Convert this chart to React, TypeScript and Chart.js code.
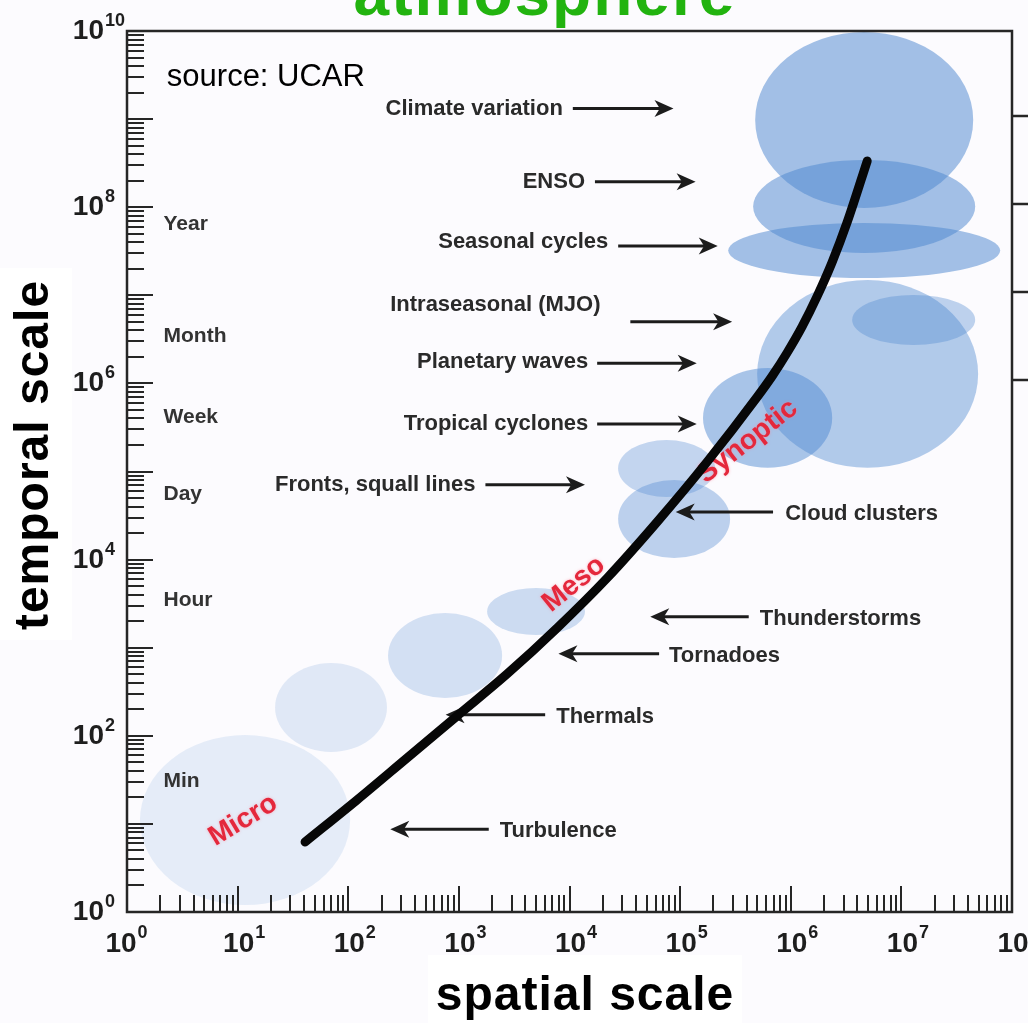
import React, { useEffect, useRef } from "react";
import { Chart, registerables } from "chart.js";

Chart.register(...registerables);

// ---- axes (spatial scale in m, temporal scale in s) ----
const xMin = 1;
const xMax = 1e8;
const yMin = 1;
const yMax = 1e10;
const xMajorExps = [0, 1, 2, 3, 4, 5, 6, 7, 8];
const yMajorExps = [0, 1, 2, 3, 4, 5, 6, 7, 8, 9, 10];
const xLabelExps = [0, 1, 2, 3, 4, 5, 6, 7, 8];
const yLabelExps = [0, 2, 4, 6, 8, 10];
const minorSignificands = [2, 3, 4, 5, 6, 7, 8, 9];
const rightStubExps = [6, 7, 8, 9];

// ---- black hand-drawn curve ----
const curveSpatial = [40.7, 120, 340, 964, 2730, 7730, 21900, 61900, 175000, 497000, 679000, 927000, 1.27e6, 1.73e6, 2.37e6, 3.24e6, 4.91e6];
const curveTemporal = [6.23, 18.7, 56, 168, 503, 1675, 6180, 26700, 128000, 701000, 1.21e6, 2.23e6, 4.44e6, 9.72e6, 2.39e7, 6.78e7, 3.34e8];

// ---- phenomena ellipses (extent in data units) ----
const phenomena = ["Turbulence", "Thermals", "Tornadoes", "Thunderstorms", "Cloud clusters", "Fronts", "Tropical cyclones", "Planetary waves", "Intraseasonal (MJO)", "Seasonal cycles", "ENSO", "Climate variation"];
const spatialLow = [1.31, 21.8, 229, 1800, 27500, 27500, 161000, 497000, 3.59e6, 272000, 457000, 477000];
const spatialHigh = [104, 224, 2460, 13800, 283000, 207000, 2.37e6, 4.94e7, 4.65e7, 7.82e7, 4.65e7, 4.46e7];
const temporalLow = [1.2, 65.5, 269, 1390, 10400, 51300, 110000, 110000, 2.73e6, 1.57e7, 3.02e7, 9.8e7];
const temporalHigh = [102, 670, 2480, 4760, 80200, 228000, 1.5e6, 1.49e7, 1.01e7, 6.62e7, 3.44e8, 9.75e9];
const bubbleOpacity = [0.13, 0.16, 0.23, 0.28, 0.37, 0.33, 0.48, 0.43, 0.36, 0.52, 0.52, 0.52];

// ---- annotations with arrows (positions as log10 exponents) ----
const annLabels = ["Climate variation", "ENSO", "Seasonal cycles", "Intraseasonal (MJO)", "Planetary waves", "Tropical cyclones", "Fronts, squall lines", "Cloud clusters", "Thunderstorms", "Tornadoes", "Thermals", "Turbulence"];
const annTextX = [3.94, 4.14, 4.35, 4.28, 4.17, 4.17, 3.15, 5.95, 5.72, 4.90, 3.88, 3.37];
const annTextY = [9.14, 8.31, 7.63, 6.91, 6.27, 5.56, 4.87, 4.54, 3.35, 2.93, 2.24, 0.94];
const annArrowFrom = [4.03, 4.23, 4.44, 4.55, 4.25, 4.25, 3.24, 5.84, 5.62, 4.81, 3.78, 3.27];
const annArrowTo = [4.94, 5.14, 5.34, 5.47, 5.15, 5.15, 4.14, 4.96, 4.73, 3.90, 2.88, 2.38];
const annArrowY = [9.12, 8.29, 7.56, 6.70, 6.23, 5.54, 4.85, 4.54, 3.35, 2.93, 2.24, 0.94];

// ---- time labels along the temporal axis ----
const timeLabels = ["Year", "Month", "Week", "Day", "Hour", "Min"];
const timeLabelX = 0.33;
const timeLabelY = [7.83, 6.55, 5.64, 4.76, 3.56, 1.5];

// ---- regime labels ----
const regimeLabels = ["Micro", "Meso", "Synoptic"];
const regimeX = [1.05, 4.04, 5.61];
const regimeY = [1.04, 3.72, 5.34];
const regimeAngle = [-31, -39, -38];

const FONT = '"Liberation Sans", Arial, Helvetica, sans-serif';

function drawArrow(ctx: CanvasRenderingContext2D, x0: number, x1: number, y: number) {
  const dir = Math.sign(x1 - x0);
  const head = 19;
  const hw = 8.5;
  ctx.beginPath();
  ctx.moveTo(x0, y);
  ctx.lineTo(x1 - dir * head * 0.7, y);
  ctx.lineWidth = 3;
  ctx.stroke();
  ctx.beginPath();
  ctx.moveTo(x1, y);
  ctx.lineTo(x1 - dir * head, y - hw);
  ctx.lineTo(x1 - dir * head * 0.72, y);
  ctx.lineTo(x1 - dir * head, y + hw);
  ctx.closePath();
  ctx.fill();
}

const backgroundPlugin = {
  id: "bg",
  beforeDraw(chart: any) {
    const ctx = chart.ctx as CanvasRenderingContext2D;
    ctx.save();
    ctx.fillStyle = "#fcfbfe";
    ctx.fillRect(0, 0, chart.width, chart.height);
    ctx.fillStyle = "#ffffff";
    ctx.fillRect(0, 268, 72, 372);
    ctx.fillRect(428, 955, 314, 68);
    ctx.restore();
  },
};

const underlayPlugin = {
  id: "underlay",
  beforeDatasetsDraw(chart: any) {
    const ctx = chart.ctx as CanvasRenderingContext2D;
    const xs = chart.scales.x;
    const ys = chart.scales.y;
    const ex = (e: number) => xs.getPixelForValue(Math.pow(10, e));
    const ey = (e: number) => ys.getPixelForValue(Math.pow(10, e));
    ctx.save();
    // ellipses
    for (let i = 0; i < phenomena.length; i++) {
      const x0 = xs.getPixelForValue(spatialLow[i]);
      const x1 = xs.getPixelForValue(spatialHigh[i]);
      const y0 = ys.getPixelForValue(temporalHigh[i]);
      const y1 = ys.getPixelForValue(temporalLow[i]);
      ctx.beginPath();
      ctx.ellipse((x0 + x1) / 2, (y0 + y1) / 2, (x1 - x0) / 2, (y1 - y0) / 2, 0, 0, Math.PI * 2);
      ctx.fillStyle = `rgba(78,136,208,${bubbleOpacity[i]})`;
      ctx.fill();
    }
    // annotations
    ctx.font = `bold 22px ${FONT}`;
    ctx.strokeStyle = "#1c1c1c";
    ctx.textBaseline = "alphabetic";
    for (let i = 0; i < annLabels.length; i++) {
      const right = annArrowTo[i] > annArrowFrom[i];
      ctx.textAlign = right ? "right" : "left";
      ctx.fillStyle = "#2a2a2a";
      ctx.fillText(annLabels[i], ex(annTextX[i]), ey(annTextY[i]) + 8);
      ctx.fillStyle = "#1c1c1c";
      drawArrow(ctx, ex(annArrowFrom[i]), ex(annArrowTo[i]), ey(annArrowY[i]));
    }
    // time labels
    ctx.font = `bold 21px ${FONT}`;
    ctx.fillStyle = "#333333";
    ctx.textAlign = "left";
    for (let i = 0; i < timeLabels.length; i++) {
      ctx.fillText(timeLabels[i], ex(timeLabelX), ey(timeLabelY[i]) + 7.5);
    }
    // source
    ctx.font = `31px ${FONT}`;
    ctx.fillStyle = "#000";
    ctx.fillText("source: UCAR", ex(0.36), ey(9.5) + 11);
    // regime labels
    ctx.font = `bold 28px ${FONT}`;
    ctx.textAlign = "center";
    ctx.textBaseline = "middle";
    for (let i = 0; i < regimeLabels.length; i++) {
      ctx.save();
      ctx.translate(ex(regimeX[i]), ey(regimeY[i]));
      ctx.rotate((regimeAngle[i] * Math.PI) / 180);
      ctx.shadowColor = "rgba(255,130,150,0.6)";
      ctx.shadowBlur = 3;
      ctx.fillStyle = "#e4283c";
      ctx.fillText(regimeLabels[i], 0, 0);
      ctx.restore();
    }
    ctx.restore();
  },
};

const overlayPlugin = {
  id: "overlay",
  afterDraw(chart: any) {
    const ctx = chart.ctx as CanvasRenderingContext2D;
    const xs = chart.scales.x;
    const ys = chart.scales.y;
    const { left, right, top, bottom } = chart.chartArea;
    ctx.save();
    ctx.strokeStyle = "#262626";
    ctx.fillStyle = "#1e1e1e";
    ctx.lineWidth = 2;
    const line = (a: number, b: number, c: number, d: number) => {
      ctx.beginPath();
      ctx.moveTo(a, b);
      ctx.lineTo(c, d);
      ctx.stroke();
    };
    // ticks
    for (const e of xMajorExps) {
      for (const s of [1, ...minorSignificands]) {
        const v = s * Math.pow(10, e);
        if (v > xMax) continue;
        const p = Math.round(xs.getPixelForValue(v));
        line(p, bottom, p, bottom - (s === 1 ? 26 : 17));
      }
    }
    for (const e of yMajorExps) {
      for (const s of [1, ...minorSignificands]) {
        const v = s * Math.pow(10, e);
        if (v > yMax) continue;
        const p = Math.round(ys.getPixelForValue(v));
        line(left, p, left + (s === 1 ? 26 : 17), p);
      }
    }
    // right-hand stubs
    ctx.lineWidth = 2.5;
    for (const e of rightStubExps) {
      const p = Math.round(ys.getPixelForValue(Math.pow(10, e))) - 3;
      line(right, p, chart.width, p);
    }
    // frame
    ctx.strokeRect(left, top, right - left, bottom - top);
    // x tick labels
    ctx.textBaseline = "alphabetic";
    for (const e of xLabelExps) {
      const p = xs.getPixelForValue(Math.pow(10, e)) + (e === 0 ? -6 : 1);
      ctx.font = `bold 28px ${FONT}`;
      const w = ctx.measureText("10").width;
      ctx.textAlign = "left";
      ctx.fillText("10", p - w / 2, bottom + 40);
      ctx.font = `bold 18px ${FONT}`;
      ctx.fillText(String(e), p + w / 2 + 1, bottom + 26);
    }
    // y tick labels
    for (const e of yLabelExps) {
      const p = ys.getPixelForValue(Math.pow(10, e));
      ctx.font = `bold 28px ${FONT}`;
      ctx.textAlign = "right";
      ctx.fillText("10", 104, p + 8);
      ctx.font = `bold 18px ${FONT}`;
      ctx.textAlign = "left";
      ctx.fillText(String(e), 105, p - 5);
    }
    // title
    ctx.font = `bold 64px ${FONT}`;
    (ctx as any).letterSpacing = "2px";
    ctx.fillStyle = "#22b30f";
    ctx.textAlign = "center";
    ctx.fillText("atmosphere", 545, 15);
    // axis titles
    ctx.fillStyle = "#000";
    ctx.font = `bold 48px ${FONT}`;
    (ctx as any).letterSpacing = "1px";
    ctx.fillText("spatial scale", 585, 1010);
    ctx.save();
    ctx.translate(48, 455);
    ctx.rotate(-Math.PI / 2);
    ctx.fillText("temporal scale", 0, 0);
    ctx.restore();
    (ctx as any).letterSpacing = "0px";
    ctx.restore();
  },
};

export default function App() {
  const ref = useRef<HTMLCanvasElement>(null);
  useEffect(() => {
    document.body.style.margin = "0";
    document.body.style.overflow = "hidden";
    const canvas = ref.current!;
    const chart = new Chart(canvas, {
      type: "line",
      data: {
        datasets: [
          {
            data: curveSpatial.map((x, i) => ({ x, y: curveTemporal[i] })),
            borderColor: "#070707",
            borderWidth: 9,
            pointRadius: 0,
            cubicInterpolationMode: "monotone",
            borderCapStyle: "round",
            borderJoinStyle: "round",
            fill: false,
          },
        ],
      },
      options: {
        responsive: false,
        animation: false,
        devicePixelRatio: 1,
        events: [],
        layout: { padding: { left: 127, right: 16, top: 31, bottom: 111 } },
        plugins: {
          legend: { display: false },
          tooltip: { enabled: false },
          title: { display: false },
        },
        scales: {
          x: { type: "logarithmic", min: xMin, max: xMax, display: false },
          y: { type: "logarithmic", min: yMin, max: yMax, display: false },
        },
      } as any,
      plugins: [backgroundPlugin, underlayPlugin, overlayPlugin],
    });
    return () => chart.destroy();
  }, []);
  return <canvas ref={ref} width={1028} height={1023} style={{ display: "block" }} />;
}
